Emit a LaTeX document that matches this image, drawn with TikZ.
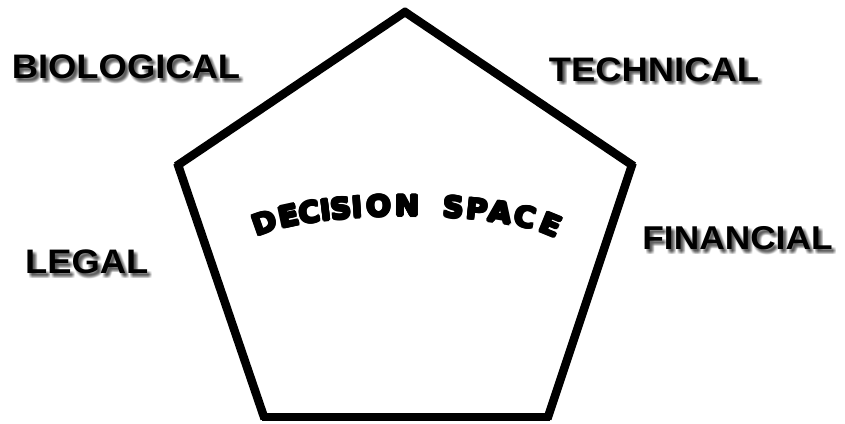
\documentclass[tikz,border=0pt]{standalone}
\usepackage{fontspec}
\setmainfont{Liberation Sans}
\newfontfamily\labfont[FakeStretch=1.07]{Liberation Sans}
\newfontfamily\decfont[FakeStretch=1.03]{DejaVu Sans}
\tikzset{
  edge/.style={line width=8.5pt, line cap=butt, shorten <=-2pt, shorten >=-2pt},
  lab/.style={font=\labfont\bfseries\fontsize{34}{40}\selectfont, inner sep=0pt, text=black},
  labsm/.style={font=\labfont\bfseries\fontsize{33}{40}\selectfont},
  shad/.style={text=black, text opacity=0.06},
  arch/.style={font=\decfont\bfseries\fontsize{28.5}{30}\selectfont, inner sep=0pt, anchor=base, text=black},
}
\newcommand\shlabel[4]{%
  \foreach \dx in {1.5,2.5,3.5,4.5}{
    \foreach \dy in {1.5,2.5,3.5,4.5}{
      \node[lab,#4,shad] (#1-s\dx-\dy) at ([shift={(\dx,\dy)}]#2) {#3};}}
  \node[lab,#4] (#1) at (#2) {#3};}
\begin{document}
\begin{tikzpicture}[x=1pt,y=-1pt]
  \fill[white] (0,0) rectangle (845,423);
  \useasboundingbox (0,0) rectangle (845,423);
  % pentagon vertices
  \coordinate (A) at (405,12);
  \coordinate (B) at (632,165);
  \coordinate (C) at (548,417);
  \coordinate (D) at (264,417);
  \coordinate (E) at (178,165);
  \draw[edge] (A) -- (B);
  \draw[edge] (B) -- (C);
  \draw[edge] (C) -- (D);
  \draw[edge] (D) -- (E);
  \draw[edge] (E) -- (A);
  % labels
  \shlabel{bio}{126,67}{BIOLOGICAL}{}
  \shlabel{tech}{654,69.5}{TECHNICAL}{}
  \shlabel{fin}{737.5,238.5}{FINANCIAL}{labsm}
  \shlabel{legal}{86.7,262}{LEGAL}{}
  % arched title: letters on an elliptic arc (centre 405,250; a=160, b=34)
  \foreach \ch/\xx [count=\k] in {D/268,E/291,C/311,I/327,S/342,I/358,O/379,N/407,S/453,P/476,A/499,C/523,E/547}{
    \pgfmathsetmacro\th{acos((\xx-405)/160)}
    \pgfmathsetmacro\px{405+160*cos(\th)}
    \pgfmathsetmacro\py{250-34*sin(\th)}
    \pgfmathsetmacro\rot{atan2(-34*cos(\th),160*sin(\th))}
    \foreach \ang in {0,45,...,315}{
      \node[arch, rotate=\rot] (ds\k-\ang) at ([shift={(\ang:1.3)}]\px,\py) {\ch};}
    \node[arch, rotate=\rot] (ds\k) at (\px,\py) {\ch};
  }
\end{tikzpicture}
\end{document}
